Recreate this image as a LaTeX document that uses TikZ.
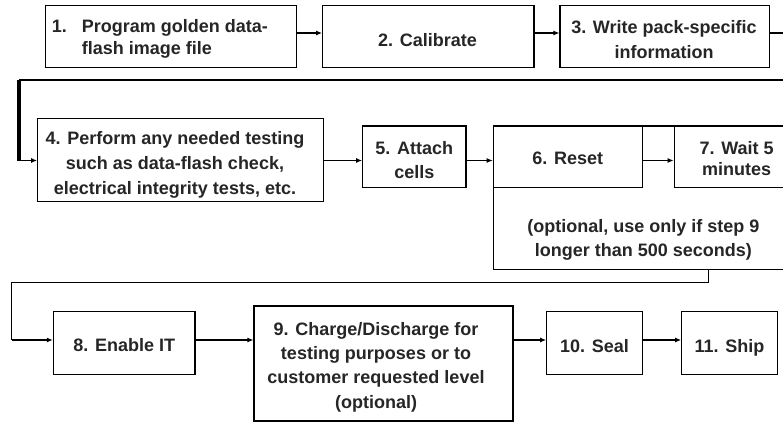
\documentclass[tikz,border=0pt]{standalone}
\usepackage{fontspec}
\setmainfont{Liberation Sans}
\usetikzlibrary{arrows.meta}
\begin{document}
\begin{tikzpicture}[x=1pt,y=-1pt,
  txt/.style={inner sep=0pt, font=\bfseries\fontsize{18}{24}\selectfont, align=center, text=black!85},
  box/.style={draw=black, line width=1.2pt, inner sep=0pt},
  arr/.style={line width=1.1pt, -{Latex[length=6pt,width=5pt]}},
  ln/.style={line width=1.1pt}]
\useasboundingbox (0,0) rectangle (783,422);
\clip (0,0) rectangle (783,422);
\fill[white] (0,0) rectangle (783,422);
% row reference coordinates
\coordinate (r1) at (0,33);
\coordinate (r2) at (0,160.5);
\coordinate (r3) at (0,340);
% row 1
\node[box, minimum width=251pt, minimum height=61.6pt] (B1) at (171.2,36.5) {};
\node[txt, anchor=west] (n1) at (51.7,26.5) {1.};
\node[txt, anchor=west, align=left, font=\bfseries\fontsize{18}{21.7}\selectfont] (t1) at (81.7,39) {Program golden data-\\flash image file};
\node[box, minimum width=211.3pt, minimum height=61.6pt] (B2) at (428.3,36.5) {};
\node[txt] (t2) at (427.5,40) {2. Calibrate};
\node[box, minimum width=209.3pt, minimum height=61.6pt] (B3) at (664.7,36.5) {};
\node[txt, font=\bfseries\fontsize{18}{25}\selectfont] (t3) at (664,39.5) {3. Write pack-specific\\information};
% row 2
\node[box, minimum width=302pt, minimum height=143.3pt] (BO) at (644.3,197.7) {};
\node[txt] (tO) at (643.3,240) {(optional, use only if step 9\\longer than 500 seconds)};
\node[box, minimum width=285.6pt, minimum height=83.4pt] (B4) at (180.5,160) {};
\node[txt, font=\bfseries\fontsize{18}{25}\selectfont] (t4) at (175,165) {4. Perform any needed testing\\such as data-flash check,\\electrical integrity tests, etc.};
\node[box, minimum width=103.3pt, minimum height=61.3pt] (B5) at (414.3,156.7) {};
\node[txt] (t5) at (414.3,160.2) {5. Attach\\cells};
\node[box, fill=white, minimum width=149pt, minimum height=61.3pt] (B6) at (567.8,156.7) {};
\node[txt] (t6) at (567.8,158.7) {6. Reset};
\node[box, fill=white, minimum width=125pt, minimum height=61.3pt] (B7) at (736.7,156.7) {};
\node[txt, font=\bfseries\fontsize{18}{21.7}\selectfont] (t7) at (736.7,158.7) {7. Wait 5\\minutes};
% row 3
\node[box, minimum width=141.7pt, minimum height=62.6pt] (B8) at (124.2,343) {};
\node[txt] (t8) at (124.2,345) {8. Enable IT};
\node[box, minimum width=259pt, minimum height=115pt] (B9) at (383.5,363.5) {};
\node[txt, font=\bfseries\fontsize{18}{24.4}\selectfont] (t9) at (376,367) {9. Charge/Discharge for\\testing purposes or to\\customer requested level\\(optional)};
\node[box, minimum width=95.6pt, minimum height=62.6pt] (B10) at (594.5,343) {};
\node[txt] (t10) at (594.5,346) {10. Seal};
\node[box, minimum width=95.6pt, minimum height=62.6pt] (B11) at (729.5,343) {};
\node[txt] (t11) at (729.5,348) {11. Ship};
% connectors row 1
\draw[arr] (B1.east |- r1) -- (B2.west |- r1);
\draw[arr] (B2.east |- r1) -- (B3.west |- r1);
\coordinate (w1) at (800,33);
\coordinate (w2) at (800,80);
\coordinate (w3) at (19,80);
\coordinate (w4) at (19,160.5);
\draw[ln] (B3.east |- r1) -- (w1) -- (w2) -- (w3);
\draw[line width=3.3pt] (w3) -- (w4);
\draw[arr] (w4) -- (B4.west |- r2);
% row 2
\draw[arr] (B4.east |- r2) -- (B5.west |- r2);
\draw[arr] (B5.east |- r2) -- (B6.west |- r2);
\draw[arr] (B6.east |- r2) -- (B7.west |- r2);
% to row 3
\coordinate (v1) at (708.3,282.7);
\coordinate (v2) at (11.7,282.7);
\coordinate (v3) at (11.7,340);
\draw[ln] (BO.south -| v1) -- (v1) -- (v2) -- (v3);
\draw[arr] (v3) -- (B8.west |- r3);
\draw[arr] (B8.east |- r3) -- (B9.west |- r3);
\draw[arr] (B9.east |- r3) -- (B10.west |- r3);
\draw[arr] (B10.east |- r3) -- (B11.west |- r3);
\end{tikzpicture}
\end{document}
